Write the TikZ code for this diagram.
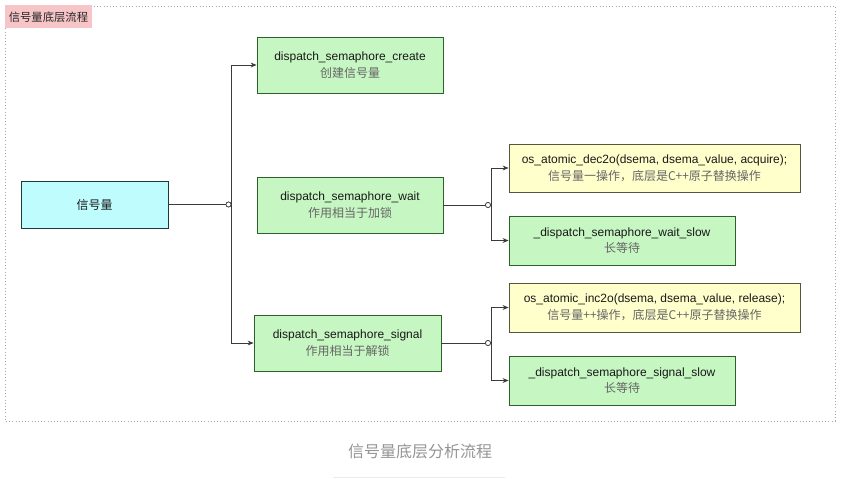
\documentclass[tikz,border=0pt]{standalone}
\usepackage{fontspec}
\setmainfont{Liberation Sans}
\newfontfamily\cjk{Noto Sans CJK SC}
\newfontfamily\cjkb[AutoFakeBold=1.6]{Noto Sans CJK SC}
\usetikzlibrary{arrows.meta}
\definecolor{gfill}{HTML}{C6F6C2}
\definecolor{gdraw}{HTML}{2F5F2C}
\definecolor{yfill}{HTML}{FFFFCC}
\definecolor{ydraw}{HTML}{555540}
\definecolor{cfill}{HTML}{BFFCFD}
\definecolor{cdraw}{HTML}{1E3A3A}
\definecolor{pinkl}{HTML}{F7C5C8}
\definecolor{linec}{HTML}{3A3A3A}
\definecolor{subtxt}{HTML}{666666}
\tikzset{
  x=0.75pt, y=-0.75pt,
  box/.style={draw, line width=0.6pt, inner sep=0pt, align=center,
    font=\fontsize{9}{12.5}\selectfont, text=black!90},
  gbox/.style={box, fill=gfill, draw=gdraw},
  ybox/.style={box, fill=yfill, draw=ydraw},
  cbox/.style={box, fill=cfill, draw=cdraw},
  conn/.style={draw=linec, line width=0.55pt},
  arr/.style={conn, -{Stealth[length=4.5pt,width=3.6pt]}},
  junc/.style={circle, draw=linec, fill=white, line width=0.5pt, inner sep=0pt, minimum size=3.8pt},
}
\newcommand{\sub}[1]{{\cjk\color{subtxt}#1}}
\begin{document}
\begin{tikzpicture}
\useasboundingbox (0,0) rectangle (841,478);
% frame
\draw[draw=black!35, line width=0.6pt, dash pattern=on 0.8pt off 1.6pt] (5,6) rectangle (835,421);
\node[fill=pinkl, inner sep=0pt, minimum width=87*0.75pt, minimum height=23*0.75pt,
      font=\fontsize{8.5}{10}\selectfont\cjkb, text=black!85] (title) at (48.5,17) {信号量底层流程};

% nodes
\node[cbox, minimum width=147*0.75pt, minimum height=47*0.75pt] (sem) at (94.5,204.5) {{\cjk 信号量}};
\node[gbox, minimum width=186*0.75pt, minimum height=56*0.75pt] (create) at (350,65) {dispatch\_semaphore\_create\\\sub{创建信号量}};
\node[gbox, minimum width=186*0.75pt, minimum height=56*0.75pt] (wait) at (350,205) {dispatch\_semaphore\_wait\\\sub{作用相当于加锁}};
\node[gbox, minimum width=187*0.75pt, minimum height=56*0.75pt] (signal) at (347.5,343) {dispatch\_semaphore\_signal\\\sub{作用相当于解锁}};
\node[ybox, minimum width=291*0.75pt, minimum height=48*0.75pt] (dec) at (654.5,168) {os\_atomic\_dec2o(dsema, dsema\_value, acquire);\\\sub{信号量一操作，底层是C++原子替换操作}};
\node[gbox, minimum width=226*0.75pt, minimum height=49*0.75pt] (wslow) at (622,240.5) {\_dispatch\_semaphore\_wait\_slow\\\sub{长等待}};
\node[ybox, minimum width=291*0.75pt, minimum height=49*0.75pt] (inc) at (654.5,307.5) {os\_atomic\_inc2o(dsema, dsema\_value, release);\\\sub{信号量++操作，底层是C++原子替换操作}};
\node[gbox, minimum width=226*0.75pt, minimum height=49*0.75pt] (sslow) at (622,380.5) {\_dispatch\_semaphore\_signal\_slow\\\sub{长等待}};

% junctions
\node[junc] (j1) at (228.5,204.5) {};
\node[junc] (j2) at (488,205) {};
\node[junc] (j3) at (488,343) {};

% connectors
\draw[conn] (sem.east) -- (j1.west);
\draw[arr] (j1.east) |- (create.west);
\draw[arr] (j1.east) |- (signal.west);
\draw[conn] (wait.east) -- (j2.west);
\draw[arr] (j2.east) |- (dec.west);
\draw[arr] (j2.east) |- (wslow.west);
\draw[conn] (signal.east) -- (j3.west);
\draw[arr] (j3.east) |- (inc.west);
\draw[arr] (j3.east) |- (sslow.west);
\node[junc] at (j1) {};
\node[junc] at (j2) {};
\node[junc] at (j3) {};

% caption
\node[font=\fontsize{12}{14}\selectfont\cjk, text=black!42] (cap) at (420,451) {信号量底层分析流程};
\draw[draw=black!8, line width=0.6pt] (333,477) -- (505,477);
\end{tikzpicture}
\end{document}
